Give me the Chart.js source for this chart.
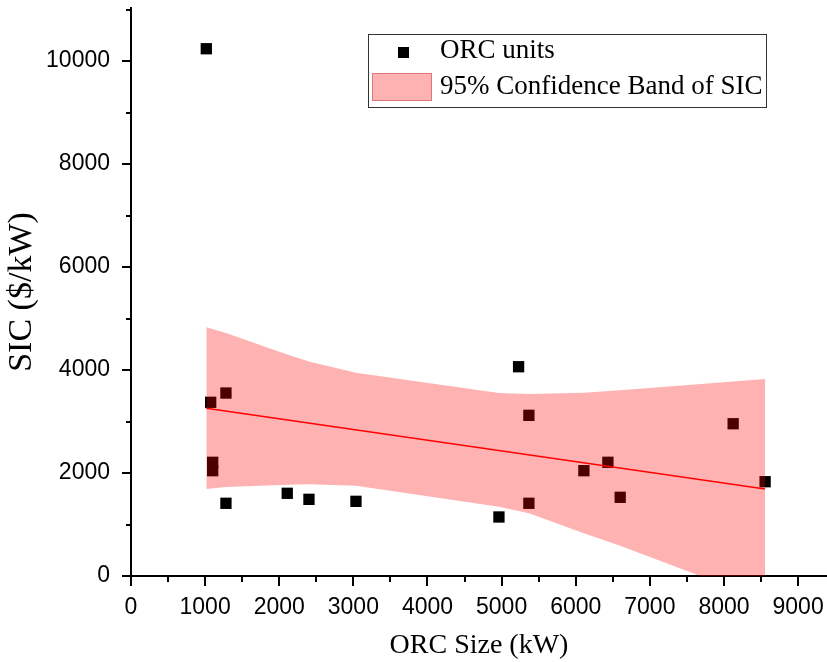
<!DOCTYPE html>
<html>
<head>
<meta charset="utf-8">
<script src="https://cdn.jsdelivr.net/npm/chart.js@4.4.1/dist/chart.umd.min.js"></script>
<style>
  html, body { margin: 0; padding: 0; background: #fff; overflow: hidden; }
  #wrap { width: 827px; height: 662px; position: relative; }
</style>
</head>
<body>
<div id="wrap"><canvas id="sicChart"></canvas></div>
<script>
// ORC units: size (kW) vs specific investment cost ($/kW)
const unitSize = [1016, 1075, 1281, 1102, 1102, 1281, 2108, 2401, 3035, 4964, 5229, 5368, 5368, 6110, 6434, 6600, 8124, 8555];
const unitSIC  = [10239, 3373, 3553, 2208, 2045, 1412, 1606, 1489, 1450, 1146, 4064, 3120, 1412, 2045, 2208, 1528, 2957, 1831];

// linear fit end points
const fitX = [1016, 8555];
const fitY = [3256, 1689];

// 95% confidence band
const bandX     = [1016, 1281, 2108, 2401, 3035, 4964, 5368, 6110, 6600, 8124, 8555];
const bandUpper = [4830, 4720, 4300, 4165, 3945, 3555, 3535, 3560, 3605, 3775, 3825];
const bandLower = [1690, 1730, 1770, 1780, 1753, 1345, 1220, 830, 585, -240, -500];

// ticks (labels on the round thousands)
const xTicks = [0, 500, 1000, 1500, 2000, 2500, 3000, 3500, 4000, 4500, 5000, 5500, 6000, 6500, 7000, 7500, 8000, 8500, 9000];
const yTicks = [0, 1000, 2000, 3000, 4000, 5000, 6000, 7000, 8000, 9000, 10000, 11000];
const xMax = 9390;
const yMax = 11030;

function pts(xs, ys) {
    return xs.map((x, i) => ({ x: x, y: ys[i] }));
}

// outward ticks, long for labelled values, short in between
const tickMarks = {
    id: 'tickMarks',
    afterDraw(chart) {
        const ctx = chart.ctx;
        const xs = chart.scales.x, ys = chart.scales.y;
        ctx.save();
        ctx.strokeStyle = '#000';
        ctx.lineWidth = 2;
        ctx.beginPath();
        xs.ticks.forEach(t => {
            const px = Math.round(xs.getPixelForValue(t.value));
            const len = t.value % 1000 === 0 ? 10 : 6;
            ctx.moveTo(px, xs.top);
            ctx.lineTo(px, xs.top + len);
        });
        ys.ticks.forEach(t => {
            const py = Math.round(ys.getPixelForValue(t.value));
            const len = t.value % 2000 === 0 ? 9 : 5;
            ctx.moveTo(ys.right, py);
            ctx.lineTo(ys.right - len, py);
        });
        ctx.stroke();
        ctx.restore();
    }
};

// legend box inside the plot
const boxLegend = {
    id: 'boxLegend',
    afterDraw(chart) {
        const ctx = chart.ctx;
        const ds = chart.data.datasets;
        ctx.save();
        ctx.fillStyle = '#fff';
        ctx.fillRect(368, 34, 398, 73);
        ctx.strokeStyle = '#333';
        ctx.lineWidth = 1;
        ctx.strokeRect(368.5, 34.5, 398, 73);

        ctx.fillStyle = '#000';
        ctx.fillRect(398, 47, 11, 11);

        ctx.fillStyle = 'rgba(255, 0, 0, 0.3)';
        ctx.fillRect(372, 73, 60, 28);
        ctx.strokeStyle = 'rgba(200, 80, 80, 0.6)';
        ctx.strokeRect(372.5, 73.5, 59, 27);

        ctx.fillStyle = '#000';
        ctx.font = '27px "Liberation Serif", "Times New Roman", serif';
        ctx.textBaseline = 'middle';
        ctx.fillText(ds[0].label, 440, 51);
        ctx.fillText(ds[1].label, 440, 87);
        ctx.restore();
    }
};

const ctx = document.getElementById('sicChart');
new Chart(ctx, {
    type: 'scatter',
    data: {
        datasets: [
            {
                label: 'ORC units',
                data: pts(unitSize, unitSIC),
                pointStyle: 'rect',
                pointRadius: 8,
                pointHoverRadius: 8,
                backgroundColor: '#000',
                borderWidth: 0,
                order: 4
            },
            {
                label: '95% Confidence Band of SIC',
                type: 'line',
                data: pts(bandX, bandUpper),
                borderWidth: 0,
                borderColor: 'rgba(0,0,0,0)',
                pointRadius: 0,
                tension: 0,
                fill: '+1',
                backgroundColor: 'rgba(255, 0, 0, 0.3)',
                order: 3
            },
            {
                label: 'lower',
                type: 'line',
                data: pts(bandX, bandLower),
                borderWidth: 0,
                borderColor: 'rgba(0,0,0,0)',
                pointRadius: 0,
                tension: 0,
                fill: false,
                order: 2
            },
            {
                label: 'fit',
                type: 'line',
                data: pts(fitX, fitY),
                borderColor: '#ff0000',
                borderWidth: 1.5,
                pointRadius: 0,
                fill: false,
                order: 1
            }
        ]
    },
    options: {
        responsive: true,
        maintainAspectRatio: false,
        animation: false,
        layout: { autoPadding: false, padding: { top: 8, right: 0, left: 0, bottom: 0 } },
        plugins: {
            legend: { display: false },
            tooltip: { enabled: false }
        },
        scales: {
            x: {
                type: 'linear',
                min: 0,
                max: xMax,
                afterBuildTicks: s => { s.ticks = xTicks.map(v => ({ value: v })); },
                afterFit: s => { s.height = 86; s.paddingLeft = 0; s.paddingRight = 0; },
                ticks: {
                    autoSkip: false,
                    maxRotation: 0,
                    padding: 8,
                    color: '#000',
                    font: { family: '"Liberation Sans", Arial, sans-serif', size: 23 },
                    callback: v => (v % 1000 === 0 ? String(v) : '')
                },
                grid: { drawOnChartArea: false, tickLength: 10, tickColor: 'rgba(0,0,0,0)' },
                border: { color: '#000', width: 2 },
                title: {
                    display: true,
                    text: 'ORC Size (kW)',
                    color: '#000',
                    font: { family: '"Liberation Serif", "Times New Roman", serif', size: 28 },
                    padding: { top: 6, bottom: 0 }
                }
            },
            y: {
                min: 0,
                max: yMax,
                afterBuildTicks: s => { s.ticks = yTicks.map(v => ({ value: v })); },
                afterFit: s => { s.width = 131; s.paddingTop = 0; s.paddingBottom = 0; },
                ticks: {
                    autoSkip: false,
                    padding: 12,
                    color: '#000',
                    font: { family: '"Liberation Sans", Arial, sans-serif', size: 23 },
                    callback: v => (v % 2000 === 0 ? String(v) : '')
                },
                grid: { drawOnChartArea: false, tickLength: 9, tickColor: 'rgba(0,0,0,0)' },
                border: { color: '#000', width: 2 },
                title: {
                    display: true,
                    text: 'SIC ($/kW)',
                    color: '#000',
                    font: { family: '"Liberation Serif", "Times New Roman", serif', size: 34 },
                    padding: { top: 2, bottom: 6 }
                }
            }
        }
    },
    plugins: [tickMarks, boxLegend]
});
</script>
</body>
</html>
